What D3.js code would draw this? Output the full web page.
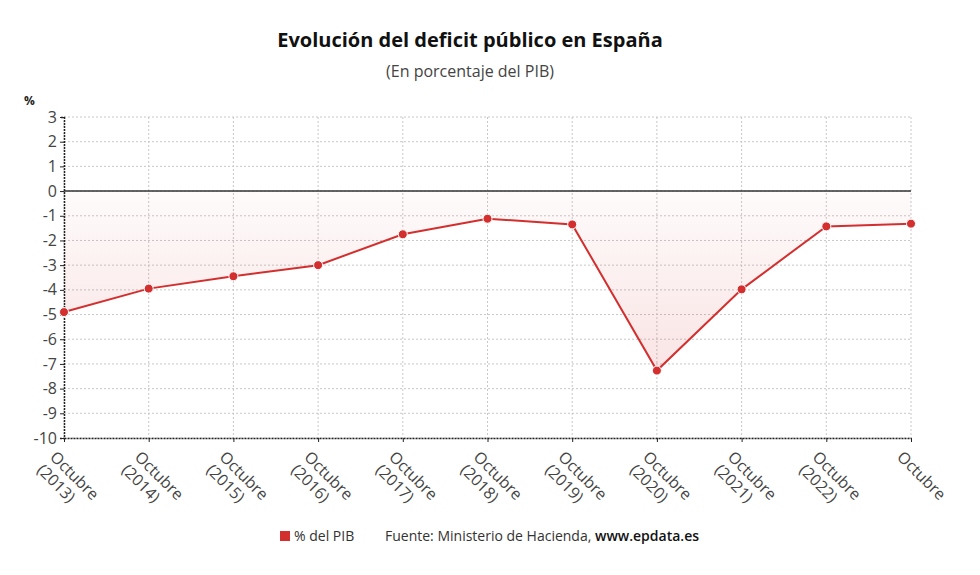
<!DOCTYPE html>
<html>
<head>
<meta charset="utf-8">
<script src="https://cdn.jsdelivr.net/npm/d3@7"></script>
<style>
  body { margin: 0; background: #fff; font-family: "Open Sans", "Noto Sans", sans-serif; }
  .grid line { stroke: #c8c8c8; stroke-dasharray: 2,2; }
  .tick text { fill: #444; }
</style>
</head>
<body>
<div id="chart"></div>
<script>
// datos
var years = ["2013", "2014", "2015", "2016", "2017", "2018", "2019", "2020", "2021", "2022", "2023"]
var deficit = [-4.9, -3.95, -3.45, -3.0, -1.75, -1.12, -1.35, -7.27, -3.98, -1.43, -1.32]
var yTicks = [3, 2, 1, 0, -1, -2, -3, -4, -5, -6, -7, -8, -9, -10]

var WIDTH = 980, HEIGHT = 575
var margin = {left: 64, right: 69, top: 117, bottom: 137}
var RED = "#d32f2f"

var svg = d3.select("#chart").append("svg")
	.attr("width", WIDTH)
	.attr("height", HEIGHT)

var x = d3.scalePoint()
	.domain(years)
	.range([margin.left, WIDTH - margin.right])

var y = d3.scaleLinear()
	.domain([-10, 3])
	.range([HEIGHT - margin.bottom, margin.top])

var defs = svg.append("defs")
var grad = defs.append("linearGradient")
	.attr("id", "areaFill")
	.attr("gradientUnits", "userSpaceOnUse")
	.attr("x1", 0).attr("x2", 0)
	.attr("y1", y(0)).attr("y2", y(-7.3))
grad.append("stop").attr("offset", "0%").attr("stop-color", RED).attr("stop-opacity", 0.02)
grad.append("stop").attr("offset", "100%").attr("stop-color", RED).attr("stop-opacity", 0.13)

// titulos
svg.append("text")
	.attr("x", 470).attr("y", 47)
	.attr("text-anchor", "middle")
	.style("font-size", "20px")
	.style("font-weight", "bold")
	.style("fill", "#111")
	.text("Evolución del deficit público en España")

svg.append("text")
	.attr("x", 470).attr("y", 77)
	.attr("text-anchor", "middle")
	.style("font-size", "16px")
	.style("fill", "#444")
	.text("(En porcentaje del PIB)")

svg.append("text")
	.attr("x", 24).attr("y", 105)
	.style("font-size", "12px")
	.style("font-weight", "bold")
	.style("fill", "#222")
	.text("%")

// rejilla
var grid = svg.append("g").attr("class", "grid")
grid.selectAll(".hgrid")
	.data(yTicks)
	.enter()
	.append("line")
	.attr("x1", margin.left)
	.attr("x2", WIDTH - margin.right)
	.attr("y1", function(d){ return y(d) })
	.attr("y2", function(d){ return y(d) })

grid.selectAll(".vgrid")
	.data(years)
	.enter()
	.append("line")
	.attr("x1", function(d){ return x(d) })
	.attr("x2", function(d){ return x(d) })
	.attr("y1", y(3))
	.attr("y2", y(-10))

// area
var area = d3.area()
	.x(function(d, i){ return x(years[i]) })
	.y0(y(0))
	.y1(function(d){ return y(d) })

svg.append("path")
	.datum(deficit)
	.attr("d", area)
	.attr("fill", "url(#areaFill)")

// linea de cero
svg.append("line")
	.attr("x1", margin.left)
	.attr("x2", WIDTH - margin.right)
	.attr("y1", y(0))
	.attr("y2", y(0))
	.attr("stroke", "#333")
	.attr("stroke-width", 1.5)

// ejes
var yAxis = svg.append("g")
	.attr("transform", "translate(" + margin.left + ",0)")
	.call(d3.axisLeft(y).tickValues(yTicks).tickSize(4).tickPadding(3)
		.tickFormat(function(d){ return String(d) }))
yAxis.select(".domain").attr("stroke", "#222").attr("stroke-width", 1.5).attr("stroke-dasharray", "2,1")
yAxis.selectAll(".tick line").attr("stroke", "#222")
yAxis.selectAll(".tick text").style("font-size", "16px").style("font-family", "Open Sans")

var xAxis = svg.append("g")
	.attr("transform", "translate(0," + y(-10) + ")")
	.call(d3.axisBottom(x).tickSize(4).tickSizeOuter(0).tickFormat(""))
xAxis.select(".domain").attr("stroke", "#222").attr("stroke-width", 1.5).attr("stroke-dasharray", "2,1")
xAxis.selectAll(".tick line").attr("stroke", "#222")

var labels = svg.append("g")
	.selectAll(".xlabel")
	.data(years)
	.enter()
	.append("text")
	.attr("transform", function(d){
		return "translate(" + (x(d) - 7) + "," + (y(-10) + 12) + ") rotate(45)"
	})
	.style("font-size", "16px")
	.style("fill", "#444")

labels.append("tspan")
	.attr("x", 0).attr("dy", "0.7em")
	.text("Octubre")
labels.append("tspan")
	.attr("x", 0).attr("dy", "1.15em")
	.text(function(d, i){ return i == years.length - 1 ? "" : "(" + d + ")" })

// linea y puntos
var line = d3.line()
	.x(function(d, i){ return x(years[i]) })
	.y(function(d){ return y(d) })

svg.append("path")
	.datum(deficit)
	.attr("d", line)
	.attr("fill", "none")
	.attr("stroke", RED)
	.attr("stroke-width", 2)

svg.selectAll(".dot")
	.data(deficit)
	.enter()
	.append("circle")
	.attr("class", "dot")
	.attr("cx", function(d, i){ return x(years[i]) })
	.attr("cy", function(d){ return y(d) })
	.attr("r", 4.5)
	.attr("fill", RED)
	.attr("stroke", "#fff")
	.attr("stroke-width", 1)

// leyenda
var legend = svg.append("g")
legend.append("rect")
	.attr("x", 280).attr("y", 531)
	.attr("width", 10).attr("height", 10)
	.attr("fill", RED)
legend.append("text")
	.attr("x", 294).attr("y", 541)
	.style("font-size", "14px")
	.style("fill", "#333")
	.text("% del PIB")
var src = legend.append("text")
	.attr("x", 385).attr("y", 541)
	.style("font-size", "14px")
	.style("fill", "#333")
src.append("tspan").text("Fuente: Ministerio de Hacienda, ")
src.append("tspan").style("fill", "#111").style("font-weight", 600).text("www.epdata.es")
</script>
</body>
</html>
